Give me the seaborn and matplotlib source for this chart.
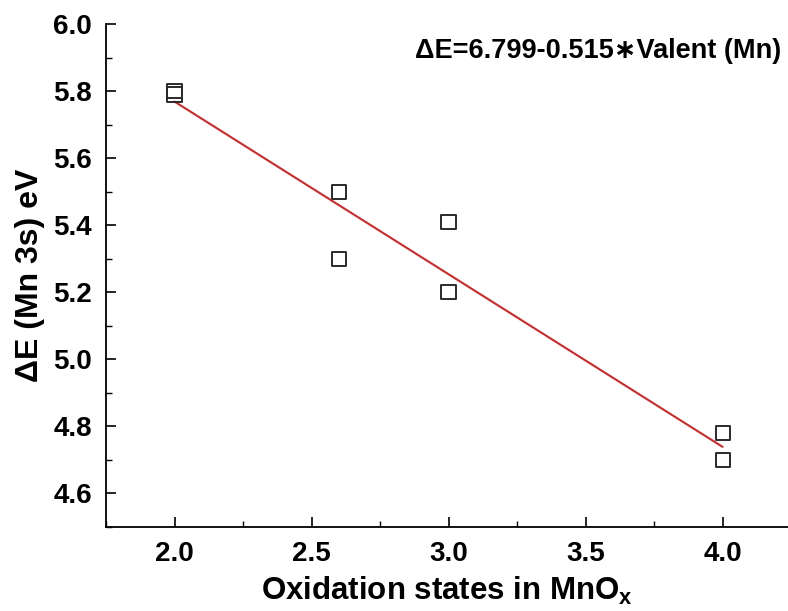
import numpy as np
import pandas as pd
import matplotlib
matplotlib.use("Agg")
import matplotlib.pyplot as plt
import seaborn as sns
from matplotlib.ticker import MultipleLocator

# Mn 3s multiplet splitting vs. oxidation state
oxidation = [2.0, 2.0, 2.6, 2.6, 3.0, 3.0, 4.0, 4.0]
delta_e = [5.80, 5.79, 5.50, 5.30, 5.41, 5.20, 4.78, 4.70]

# Linear fit coefficients: dE = intercept + slope * valence
fit_intercept = 6.799
fit_slope = -0.515
fit_x = [2.0, 4.0]

sns.set_style("ticks")
plt.rcParams["font.family"] = ["Liberation Sans", "DejaVu Sans"]
plt.rcParams["font.weight"] = "bold"
plt.rcParams["text.color"] = "black"
plt.rcParams["axes.labelcolor"] = "black"
plt.rcParams["mathtext.fontset"] = "custom"
plt.rcParams["mathtext.bf"] = "Liberation Sans:bold"

fig = plt.figure(figsize=(7.88, 6.11), dpi=100)
ax = fig.add_axes([0.1345, 0.1375, 0.866, 0.823])

pts = pd.DataFrame({"x": oxidation, "y": delta_e})
fit = pd.DataFrame({"x": fit_x,
                    "y": [fit_intercept + fit_slope * v for v in fit_x]})

sns.lineplot(data=fit, x="x", y="y", ax=ax, color="#cc2a2a", linewidth=1.5)
sns.scatterplot(data=pts, x="x", y="y", ax=ax, marker="s", s=105,
                facecolor="none", edgecolor="#2a2a2a", linewidth=1.4, zorder=3)

ax.set_xlim(1.75, 4.24)
ax.set_ylim(4.5, 6.0)
ax.xaxis.set_major_locator(MultipleLocator(0.5))
ax.xaxis.set_minor_locator(MultipleLocator(0.25))
ax.set_yticks(np.arange(4.6, 6.01, 0.2))
ax.yaxis.set_minor_locator(MultipleLocator(0.1))

ax.tick_params(which="major", direction="in", length=7, width=1.2,
               labelsize=20, pad=10, colors="black")
ax.tick_params(which="minor", direction="in", length=4, width=1.0,
               colors="black")
for lab in ax.get_xticklabels() + ax.get_yticklabels():
    lab.set_fontweight("bold")

for side in ("top", "right"):
    ax.spines[side].set_visible(False)
for side in ("left", "bottom"):
    ax.spines[side].set_linewidth(1.3)
    ax.spines[side].set_color("black")

ax.set_xlabel("Oxidation states in MnO$_\\mathbf{x}$", fontsize=22.5,
              fontweight="bold", labelpad=6)
ax.set_ylabel("ΔE (Mn 3s) eV", fontsize=23, fontweight="bold", labelpad=6)

ax.text(0.99, 0.947, "ΔE=6.799-0.515∗Valent (Mn)", transform=ax.transAxes,
        ha="right", va="center", fontsize=19.5, fontweight="bold")

fig.savefig("out.png", dpi=100)
